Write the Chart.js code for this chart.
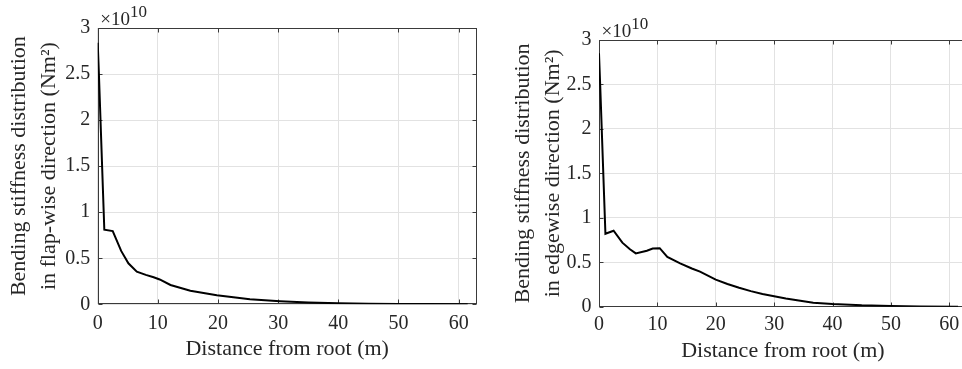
<!DOCTYPE html>
<html>
<head>
<meta charset="utf-8">
<script src="https://cdn.jsdelivr.net/npm/chart.js@4/dist/chart.umd.min.js"></script>
<style>
  html, body { margin:0; padding:0; background:#fff; overflow:hidden; width:962px; height:369px; }
  .panel { position:absolute; top:0; }
  canvas { display:block; }
</style>
</head>
<body>
<div class="panel" style="left:0;width:480px;height:369px;"><canvas id="c1" width="480" height="369"></canvas></div>
<div class="panel" style="left:480px;width:500px;height:369px;"><canvas id="c2" width="500" height="369"></canvas></div>
<script>
// Distance from root (m) and bending stiffness (x 10^10 N m^2)
const flapX  = [0, 0.2, 1.1, 2.5, 3.9, 5.1, 6.5, 8.0, 9.3, 10.3, 12.1, 15.4, 19.8, 25.3, 30.3, 35, 40, 45, 50, 55, 61.5];
const flapEI = [2.84, 2.50, 0.81, 0.795, 0.58, 0.445, 0.355, 0.32, 0.293, 0.27, 0.21, 0.148, 0.098, 0.054, 0.033, 0.02, 0.012, 0.007, 0.004, 0.002, 0.0005];

const edgeX  = [0, 0.2, 1.1, 2.5, 4.0, 5.3, 6.3, 8.2, 9.2, 10.4, 11.7, 13.9, 15.9, 17.3, 20.0, 22.0, 24.0, 26.0, 28.0, 32.0, 36.7, 40.0, 45.0, 50.0, 55.0, 61.5];
const edgeEI = [2.85, 2.50, 0.82, 0.855, 0.72, 0.646, 0.60, 0.63, 0.655, 0.658, 0.56, 0.488, 0.43, 0.394, 0.305, 0.255, 0.213, 0.175, 0.142, 0.092, 0.045, 0.03, 0.015, 0.008, 0.003, 0.0005];

const xTicks = [0, 10, 20, 30, 40, 50, 60];
const yTicks = [0, 0.5, 1, 1.5, 2, 2.5, 3];
const xTitle = 'Distance from root (m)';
const yTitleFlap = ['Bending stiffness distribution', 'in flap-wise direction (Nm\u00B2)'];
const yTitleEdge = ['Bending stiffness distribution', 'in edgewise direction (Nm\u00B2)'];
const expBase = '\u00D710';
const expPow = '10';

const FAM = '"Liberation Serif", "Times New Roman", serif';
const TXT = '#262626';

const boxPlugin = {
  id: 'matlabBox',
  beforeDatasetsDraw(chart) {
    const { ctx, chartArea: a, scales: { x, y } } = chart;
    ctx.save();
    ctx.strokeStyle = '#3a3a3a';
    ctx.lineWidth = 1;
    const L = Math.round(a.left) + 0.5, R = Math.round(a.right) - 0.5;
    const T = Math.round(a.top) + 0.5, B = Math.round(a.bottom) - 0.5;
    ctx.beginPath();
    x.ticks.forEach(t => {
      const px = Math.round(x.getPixelForValue(t.value)) + 0.5;
      ctx.moveTo(px, B); ctx.lineTo(px, B - 4);
      ctx.moveTo(px, T); ctx.lineTo(px, T + 4);
    });
    y.ticks.forEach(t => {
      const py = Math.round(y.getPixelForValue(t.value)) + 0.5;
      ctx.moveTo(L, py); ctx.lineTo(L + 4, py);
      ctx.moveTo(R, py); ctx.lineTo(R - 4, py);
    });
    ctx.stroke();
    ctx.strokeRect(L, T, R - L, B - T);
    ctx.restore();
  },
  afterDraw(chart) {
    const { ctx, chartArea: a } = chart;
    ctx.save();
    ctx.fillStyle = TXT;
    ctx.textBaseline = 'alphabetic';
    ctx.textAlign = 'left';
    ctx.font = '19px ' + FAM;
    const x0 = a.left + 2.5;
    ctx.fillText(expBase, x0, a.top - 3);
    const w = ctx.measureText(expBase).width;
    ctx.font = '17px ' + FAM;
    ctx.fillText(expPow, x0 + w, a.top - 11);
    ctx.restore();
  }
};

function makeChart(id, xs, ys, yTitle, geo) {
  const pts = xs.map((v, i) => ({ x: v, y: ys[i] }));
  return new Chart(document.getElementById(id), {
    type: 'line',
    data: { datasets: [{ data: pts, borderColor: '#000', borderWidth: 2, pointRadius: 0, tension: 0, fill: false }] },
    plugins: [boxPlugin],
    options: {
      responsive: false, animation: false, devicePixelRatio: 1,
      layout: { padding: { left: geo.padL, top: geo.padT, right: geo.padR, bottom: 0 } },
      plugins: { legend: { display: false }, tooltip: { enabled: false } },
      scales: {
        x: {
          type: 'linear', min: 0, max: 63,
          afterBuildTicks: s => { s.ticks = xTicks.map(v => ({ value: v })); },
          ticks: { font: { family: FAM, size: 20 }, color: TXT, padding: geo.xPad, maxRotation: 0, autoSkip: false, callback: v => String(v) },
          grid: { color: '#e2e2e2', lineWidth: 1, drawTicks: false },
          border: { display: false },
          title: { display: true, text: xTitle, color: TXT, font: { family: FAM, size: 22, lineHeight: 1.2 }, padding: { top: 0, bottom: geo.xtPad } },
          afterFit: s => { s.height = geo.xH; }
        },
        y: {
          type: 'linear', min: 0, max: 3,
          afterBuildTicks: s => { s.ticks = yTicks.map(v => ({ value: v })); },
          ticks: { font: { family: FAM, size: 20 }, color: TXT, padding: 7.5, callback: v => String(v) },
          grid: { color: '#e2e2e2', lineWidth: 1, drawTicks: false },
          border: { display: false },
          title: { display: true, text: yTitle, color: TXT, font: { family: FAM, size: 22, lineHeight: 1.34 }, padding: { top: 4.5, bottom: 0 } },
          afterFit: s => { s.width = geo.yW; }
        }
      }
    }
  });
}

makeChart('c1', flapX, flapEI, yTitleFlap, { padL: 0, padT: 28, padR: 3.3, yW: 97.7, xH: 64.7, xPad: 7, xtPad: 6.5 });
makeChart('c2', edgeX, edgeEI, yTitleEdge, { padL: 24.4, padT: 40, padR: 13.2, yW: 94.6, xH: 62.3, xPad: 6.3, xtPad: 4.9 });
</script>
</body>
</html>
